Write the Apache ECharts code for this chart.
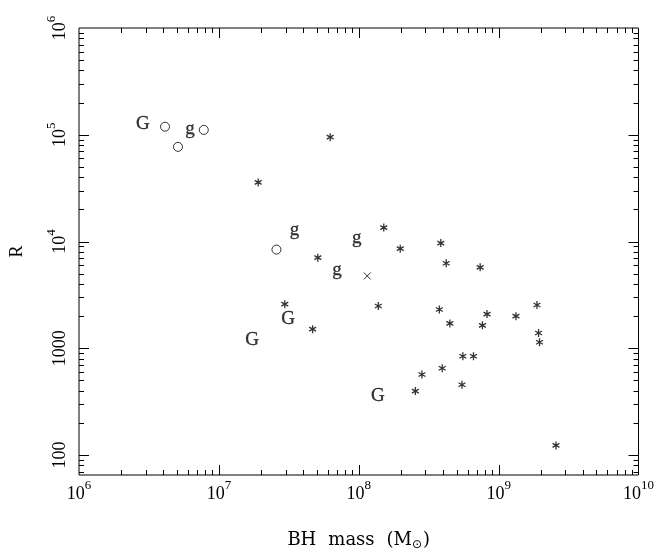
<!DOCTYPE html>
<html>
<head>
<meta charset="utf-8">
<script src="https://cdn.jsdelivr.net/npm/echarts@6/dist/echarts.min.js"></script>
<style>
html,body{margin:0;padding:0;background:#fff;}
#chart{width:663px;height:556px;}
</style>
</head>
<body>
<div id="chart"></div>
<script>
// ---- data ----
const asteriskX = [6.25e7, 1.91e7, 1.51e8, 3.86e8, 1.98e8, 5.1e7, 4.22e8, 7.38e8, 2.96e7, 1.38e8, 1.88e9, 3.77e8, 8.26e8, 1.33e9, 4.48e8, 7.66e8, 4.68e7, 1.93e9, 1.96e9, 5.55e8, 6.61e8, 3.95e8, 2.83e8, 2.54e8, 5.47e8, 2.57e9];
const asteriskY = [9.5e4, 3.58e4, 1.35e4, 9660, 8570, 7060, 6250, 5730, 2590, 2490, 2540, 2310, 2090, 2000, 1710, 1640, 1510, 1390, 1140, 841, 841, 650, 568, 397, 455, 123];
const circleX = [4.12e6, 5.1e6, 7.8e6, 2.58e7];
const circleY = [1.19e5, 7.7e4, 1.11e5, 8400];
const crossX = [1.15e8];
const crossY = [4760];
const letterText = ['G', 'g', 'g', 'g', 'g', 'G', 'G', 'G'];
const letterX = [2.86e6, 6.21e6, 3.47e7, 9.68e7, 6.98e7, 3.13e7, 1.73e7, 1.37e8];
const letterY = [1.26e5, 1.07e5, 1.21e4, 1.01e4, 5100, 1870, 1200, 357];

// axis ranges and ticks
const xMin = 1e6, xMax = 1e10;
const yMin = 65, yMax = 1e6;
const xMajorTicks = [1e6, 1e7, 1e8, 1e9, 1e10];
const yMajorTicks = [100, 1000, 1e4, 1e5, 1e6];
const minorMultipliers = [2, 3, 4, 5, 6, 7, 8, 9];

function minorTicks(lo, hi) {
  const out = [];
  for (let e = Math.floor(Math.log10(lo)) ; e < Math.ceil(Math.log10(hi)); e++) {
    minorMultipliers.forEach(m => {
      const v = m * Math.pow(10, e);
      if (v > lo && v < hi) out.push(v);
    });
  }
  return out;
}
const xMinorTicks = minorTicks(xMin, xMax);
const yMinorTicks = minorTicks(yMin, yMax);

const FONT = '"Liberation Serif", "DejaVu Serif", serif';

function isPow10(v) {
  const l = Math.log10(v);
  return Math.abs(l - Math.round(l)) < 1e-6;
}
function xLabel(v) {
  if (!isPow10(v)) return '';
  return '{b|10}{s|' + Math.round(Math.log10(v)) + '}';
}
function yLabel(v) {
  if (!isPow10(v)) return '';
  const e = Math.round(Math.log10(v));
  if (e >= 4) return '{b|10}{s|' + e + '}';
  return '{b|' + Math.round(v) + '}';
}
const labelRich = {
  b: { fontFamily: FONT, fontSize: 18, lineHeight: 24, color: '#000', verticalAlign: 'bottom' },
  s: { fontFamily: FONT, fontSize: 13, lineHeight: 13, color: '#000', verticalAlign: 'top' }
};

const asteriskPath = 'path://M5,0L5,10M0.67,2.5L9.33,7.5M0.67,7.5L9.33,2.5';
const crossPath = 'path://M0,0L10,10M0,10L10,0';

function tickRenderer(isX) {
  return function (params, api) {
    const cs = params.coordSys;
    const v = api.value(isX ? 0 : 1);
    const major = api.value(2) === 1;
    const len = major ? 10 : 5;
    const style = { stroke: '#000', lineWidth: 1 };
    if (isX) {
      const px = Math.round(api.coord([v, yMax])[0]) + 0.5;
      return { type: 'group', children: [
        { type: 'line', shape: { x1: px, y1: cs.y + cs.height, x2: px, y2: cs.y + cs.height - len }, style },
        { type: 'line', shape: { x1: px, y1: cs.y, x2: px, y2: cs.y + len }, style }
      ]};
    } else {
      const py = Math.round(api.coord([xMin, v])[1]) + 0.5;
      return { type: 'group', children: [
        { type: 'line', shape: { x1: cs.x, y1: py, x2: cs.x + len, y2: py }, style },
        { type: 'line', shape: { x1: cs.x + cs.width, y1: py, x2: cs.x + cs.width - len, y2: py }, style }
      ]};
    }
  };
}

const xTickData = xMajorTicks.filter(v => v > xMin && v < xMax).map(v => [v, yMax, 1])
  .concat(xMinorTicks.map(v => [v, yMax, 0]));
const yTickData = yMajorTicks.filter(v => v > yMin && v < yMax).map(v => [xMin, v, 1])
  .concat(yMinorTicks.map(v => [xMin, v, 0]));

const chart = echarts.init(document.getElementById('chart'), null, { renderer: 'canvas' });
chart.setOption({
  animation: false,
  backgroundColor: '#fff',
  grid: { left: 77, right: 24.5, top: 28, bottom: 79, show: true, borderColor: '#000', borderWidth: 1, backgroundColor: 'transparent' },
  xAxis: {
    type: 'log', logBase: 10, min: xMin, max: xMax,
    axisLine: { show: false }, axisTick: { show: false }, splitLine: { show: false },
    axisLabel: { formatter: xLabel, rich: labelRich, margin: 4, showMinLabel: true, showMaxLabel: true, hideOverlap: false },
    name: '{t|BH}{g|mass}{g|(M}{sub|\u2299}{t|)}',
    nameLocation: 'middle', nameGap: 54,
    nameTextStyle: {
      rich: {
        t: { fontFamily: '"DejaVu Serif", serif', fontSize: 18, lineHeight: 22, color: '#000', verticalAlign: 'middle' },
        g: { fontFamily: '"DejaVu Serif", serif', fontSize: 18, lineHeight: 22, color: '#000', verticalAlign: 'middle', padding: [0, 0, 0, 12] },
        sub: { fontFamily: '"DejaVu Sans", serif', fontSize: 12, lineHeight: 12, color: '#000', verticalAlign: 'bottom', padding: [0, 1, 0, 0] }
      }
    }
  },
  yAxis: {
    type: 'log', logBase: 10, min: yMin, max: yMax,
    axisLine: { show: false }, axisTick: { show: false }, splitLine: { show: false },
    axisLabel: { formatter: yLabel, rich: labelRich, rotate: 90, margin: 10, showMinLabel: false, showMaxLabel: true, hideOverlap: false },
    name: 'R', nameLocation: 'middle', nameGap: 53, nameRotate: 90,
    nameTextStyle: { fontFamily: FONT, fontSize: 18, color: '#000' }
  },
  series: [
    { type: 'custom', silent: true, renderItem: tickRenderer(true), data: xTickData, clip: false, z: 1 },
    { type: 'custom', silent: true, renderItem: tickRenderer(false), data: yTickData, clip: false, z: 1 },
    {
      type: 'scatter', name: 'asterisk', symbol: asteriskPath, symbolSize: 8, symbolKeepAspect: true,
      itemStyle: { color: 'none', borderColor: '#000', borderWidth: 1.3 },
      data: asteriskX.map((x, i) => [x, asteriskY[i]]), z: 3
    },
    {
      type: 'scatter', name: 'circle', symbol: 'circle', symbolSize: 9,
      itemStyle: { color: 'rgba(255,255,255,0)', borderColor: '#000', borderWidth: 1 },
      data: circleX.map((x, i) => [x, circleY[i]]), z: 3
    },
    {
      type: 'scatter', name: 'cross', symbol: crossPath, symbolSize: 7,
      itemStyle: { color: 'none', borderColor: '#000', borderWidth: 1 },
      data: crossX.map((x, i) => [x, crossY[i]]), z: 3
    },
    {
      type: 'scatter', name: 'letters', symbol: 'circle', symbolSize: 1,
      itemStyle: { color: 'rgba(0,0,0,0)' },
      label: {
        show: true, position: 'inside',
        formatter: p => p.name,
        fontFamily: FONT, fontSize: 19, color: '#000', textBorderColor: '#000', textBorderWidth: 0.3
      },
      data: letterX.map((x, i) => ({
        name: letterText[i], value: [x, letterY[i]],
        label: { offset: letterText[i] === 'g' ? [0, -3] : [0, 0] }
      })),
      z: 3
    }
  ]
});
</script>
</body>
</html>
